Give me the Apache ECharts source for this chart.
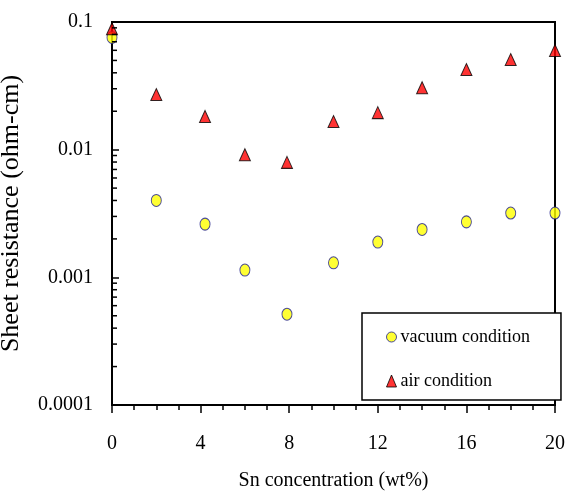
<!DOCTYPE html>
<html><head><meta charset="utf-8">
<script src="https://cdn.jsdelivr.net/npm/echarts@6/dist/echarts.min.js"></script>
<style>html,body{margin:0;padding:0;background:#fff}#c{width:567px;height:491px}</style>
</head><body><div id="c"></div>
<script>
var snConc = [0, 2, 4.2, 6, 7.9, 10, 12, 14, 16, 18, 20];
var vacuum = [0.0757, 0.0040, 0.00261, 0.00114, 0.000514, 0.0013, 0.00189, 0.00237, 0.00272, 0.00319, 0.00319];
var air = [0.0885, 0.027, 0.0182, 0.00914, 0.00795, 0.0166, 0.0195, 0.0306, 0.0424, 0.0508, 0.0598];
var yTickLabels = {'0.0001':'0.0001','0.001':'0.001','0.01':'0.01','0.1':'0.1'};
var yMinorTicks = [];
[0.0001, 0.001, 0.01].forEach(function(d){ for (var k=2;k<=9;k++) yMinorTicks.push(+(d*k).toPrecision(2)); });

var FONT = '"Liberation Serif", "Times New Roman", serif';
var chart = echarts.init(document.getElementById('c'), null, {renderer:'canvas'});
chart.setOption({
  animation:false,
  backgroundColor:'#fff',
  grid:{left:112, right:12, top:22, bottom:86, containLabel:false, outerBoundsMode:'none',
        show:true, borderColor:'#000', borderWidth:2, backgroundColor:'transparent'},
  legend:{
    left:362, top:313, orient:'vertical', itemGap:26,
    padding:[15, 31, 10, 24],
    borderColor:'#000', borderWidth:1.5, backgroundColor:'#fff',
    itemWidth:10, itemHeight:12, itemStyle:{borderWidth:1},
    textStyle:{fontFamily:FONT, fontSize:18, color:'#000', padding:[0,0,0,-1]},
    data:[{name:'vacuum condition', icon:'circle'},{name:'air condition', icon:'triangle'}]
  },
  xAxis:{
    type:'value', min:0, max:20, interval:4,
    name:'Sn concentration (wt%)', nameLocation:'middle', nameGap:66,
    nameTextStyle:{fontFamily:FONT, fontSize:20, color:'#000'},
    axisLine:{lineStyle:{color:'#000', width:2}},
    axisTick:{show:true, inside:false, length:8, lineStyle:{color:'#000', width:1.5}},
    minorTick:{show:true, splitNumber:4, length:5, lineStyle:{color:'#000', width:1.5}},
    axisLabel:{fontFamily:FONT, fontSize:20, color:'#000', margin:29},
    splitLine:{show:false}
  },
  yAxis:{
    type:'log', logBase:10, min:0.0001, max:0.1,
    name:'Sheet resistance (ohm-cm)', nameLocation:'middle', nameGap:88,
    nameTextStyle:{fontFamily:FONT, fontSize:26, color:'#000'},
    axisLine:{lineStyle:{color:'#000', width:2}},
    axisTick:{show:true, inside:true, length:7, lineStyle:{color:'#000', width:1.5}},
    minorTick:{show:false},
    axisLabel:{fontFamily:FONT, fontSize:20, color:'#000', margin:19,
      formatter:function(v){ var k = String(+Number(v).toPrecision(1)); return yTickLabels[k] || k; }},
    splitLine:{show:false}
  },
  series:[
    {
      type:'custom', name:'minorTicks', silent:true, z:10, clip:false,
      encode:{x:0, y:1},
      data:yMinorTicks.map(function(v){return [0, v];}),
      renderItem:function(params, api){
        var p = api.coord([api.value(0), api.value(1)]);
        return {type:'line', shape:{x1:p[0], y1:p[1], x2:p[0]+5, y2:p[1]}, style:{stroke:'#000', lineWidth:1.5}};
      }
    },
    {
      type:'scatter', name:'vacuum condition', symbol:'circle', symbolSize:[10,12], z:5,
      itemStyle:{color:'#ffff00', borderColor:'#1f1f8f', borderWidth:1},
      data:snConc.map(function(x,i){return [x, vacuum[i]];})
    },
    {
      type:'scatter', name:'air condition', symbol:'triangle', symbolSize:[11,12], z:5,
      itemStyle:{color:'#ff0000', borderColor:'#000', borderWidth:1},
      data:snConc.map(function(x,i){return [x, air[i]];})
    }
  ]
});
</script></body></html>
